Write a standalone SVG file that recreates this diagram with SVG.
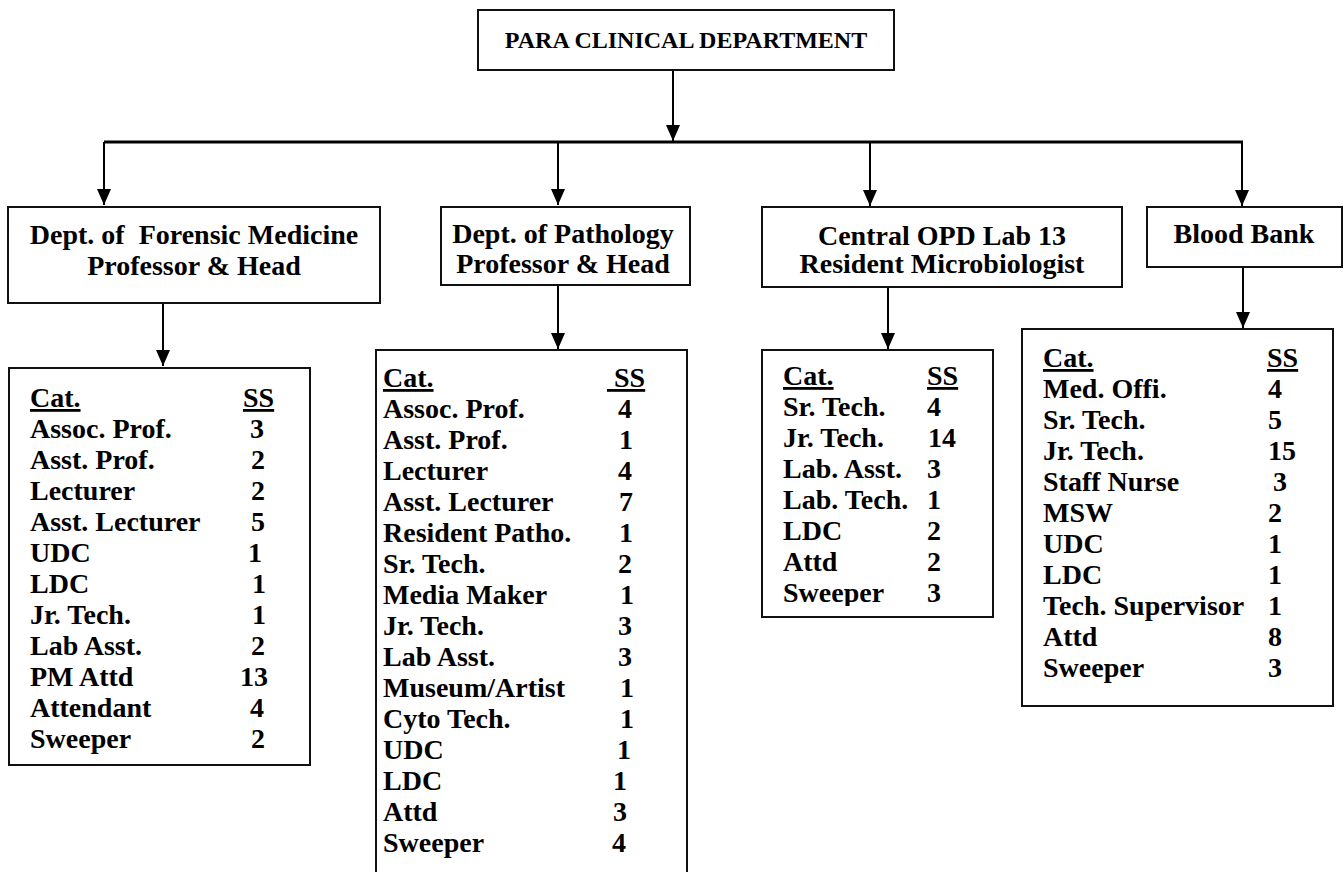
<svg xmlns="http://www.w3.org/2000/svg" width="1344" height="872" viewBox="0 0 1344 872">
  <style>
    .box { fill: #ffffff; stroke: #111111; stroke-width: 2; }
    .t { font-family: "Liberation Serif", "Times New Roman", serif; font-weight: bold; font-size: 28px; fill: #000000; }
    .title { font-size: 24px; }
    .c { text-anchor: middle; }
    .u { text-decoration: underline; }
    .wire { fill: none; stroke: #000000; stroke-width: 2; }
    .bus { fill: none; stroke: #000000; stroke-width: 3; }
  </style>
  <defs>
    <marker id="arrow" viewBox="0 0 16 14" refX="16" refY="7" markerWidth="16" markerHeight="14" orient="auto" markerUnits="userSpaceOnUse">
      <path d="M0,0 L16,7 L0,14 z" fill="#000000"/>
    </marker>
    <clipPath id="clipOpd">
      <rect x="763" y="351" width="229" height="255"/>
    </clipPath>
  </defs>
  <rect width="1344" height="872" fill="#ffffff"/>

  <!-- connectors -->
  <g id="connectors">
    <line class="wire" x1="673" y1="70" x2="673" y2="141" marker-end="url(#arrow)"/>
    <line class="bus" x1="104" y1="142" x2="1243" y2="142"/>
    <line class="wire" x1="104" y1="142" x2="104" y2="205" marker-end="url(#arrow)"/>
    <line class="wire" x1="558" y1="142" x2="558" y2="205" marker-end="url(#arrow)"/>
    <line class="wire" x1="870" y1="142" x2="870" y2="206" marker-end="url(#arrow)"/>
    <line class="wire" x1="1242" y1="142" x2="1242" y2="206" marker-end="url(#arrow)"/>
    <line class="wire" x1="163" y1="303" x2="163" y2="366" marker-end="url(#arrow)"/>
    <line class="wire" x1="558" y1="285" x2="558" y2="349" marker-end="url(#arrow)"/>
    <line class="wire" x1="888" y1="287" x2="888" y2="349" marker-end="url(#arrow)"/>
    <line class="wire" x1="1243" y1="267" x2="1243" y2="328" marker-end="url(#arrow)"/>
  </g>

  <!-- top node -->
  <g id="para-clinical">
    <rect class="box" x="478" y="10" width="416" height="60"/>
    <text class="t title c" x="686" y="48">PARA CLINICAL DEPARTMENT</text>
  </g>

  <!-- department heads -->
  <g id="forensic-head">
    <rect class="box" x="8" y="207" width="372" height="96"/>
    <text class="t c" x="194" y="244" xml:space="preserve">Dept. of  Forensic Medicine</text>
    <text class="t c" x="194" y="275">Professor &amp; Head</text>
  </g>
  <g id="pathology-head">
    <rect class="box" x="441" y="207" width="249" height="78"/>
    <text class="t c" x="563" y="243">Dept. of Pathology</text>
    <text class="t c" x="563" y="273">Professor &amp; Head</text>
  </g>
  <g id="opd-head">
    <rect class="box" x="762" y="207" width="360" height="80"/>
    <text class="t c" x="942" y="245">Central OPD Lab 13</text>
    <text class="t c" x="942" y="273">Resident Microbiologist</text>
  </g>
  <g id="bloodbank-head">
    <rect class="box" x="1147" y="207" width="195" height="60"/>
    <text class="t c" x="1244" y="243">Blood Bank</text>
  </g>

  <!-- staff strength tables -->
  <g id="forensic-staff">
    <rect class="box" x="9" y="368" width="301" height="397"/>
    <text class="t u" x="30" y="407">Cat.</text><text class="t u" x="243" y="407">SS</text>
    <text class="t" x="30" y="438">Assoc. Prof.</text><text class="t" x="250" y="438">3</text>
    <text class="t" x="30" y="469">Asst. Prof.</text><text class="t" x="251" y="469">2</text>
    <text class="t" x="30" y="500">Lecturer</text><text class="t" x="251" y="500">2</text>
    <text class="t" x="30" y="531">Asst. Lecturer</text><text class="t" x="251" y="531">5</text>
    <text class="t" x="30" y="562">UDC</text><text class="t" x="248" y="562">1</text>
    <text class="t" x="30" y="593">LDC</text><text class="t" x="252" y="593">1</text>
    <text class="t" x="30" y="624">Jr. Tech.</text><text class="t" x="252" y="624">1</text>
    <text class="t" x="30" y="655">Lab Asst.</text><text class="t" x="251" y="655">2</text>
    <text class="t" x="30" y="686">PM Attd</text><text class="t" x="240" y="686">13</text>
    <text class="t" x="30" y="717">Attendant</text><text class="t" x="250" y="717">4</text>
    <text class="t" x="30" y="748">Sweeper</text><text class="t" x="251" y="748">2</text>
  </g>

  <g id="pathology-staff">
    <rect class="box" x="376" y="350" width="311" height="540"/>
    <text class="t u" x="383" y="387">Cat.</text><text class="t u" x="607" y="387" xml:space="preserve"> SS</text>
    <text class="t" x="383" y="418">Assoc. Prof.</text><text class="t" x="618" y="418">4</text>
    <text class="t" x="383" y="449">Asst. Prof.</text><text class="t" x="619" y="449">1</text>
    <text class="t" x="383" y="480">Lecturer</text><text class="t" x="618" y="480">4</text>
    <text class="t" x="383" y="511">Asst. Lecturer</text><text class="t" x="619" y="511">7</text>
    <text class="t" x="383" y="542">Resident Patho.</text><text class="t" x="619" y="542">1</text>
    <text class="t" x="383" y="573">Sr. Tech.</text><text class="t" x="618" y="573">2</text>
    <text class="t" x="383" y="604">Media Maker</text><text class="t" x="620" y="604">1</text>
    <text class="t" x="383" y="635">Jr. Tech.</text><text class="t" x="618" y="635">3</text>
    <text class="t" x="383" y="666">Lab Asst.</text><text class="t" x="618" y="666">3</text>
    <text class="t" x="383" y="697">Museum/Artist</text><text class="t" x="620" y="697">1</text>
    <text class="t" x="383" y="728">Cyto Tech.</text><text class="t" x="620" y="728">1</text>
    <text class="t" x="383" y="759">UDC</text><text class="t" x="617" y="759">1</text>
    <text class="t" x="383" y="790">LDC</text><text class="t" x="613" y="790">1</text>
    <text class="t" x="383" y="821">Attd</text><text class="t" x="613" y="821">3</text>
    <text class="t" x="383" y="852">Sweeper</text><text class="t" x="612" y="852">4</text>
  </g>

  <g id="opd-staff">
    <rect class="box" x="762" y="350" width="231" height="267"/>
    <g clip-path="url(#clipOpd)">
      <text class="t u" x="783" y="385">Cat.</text><text class="t u" x="927" y="385">SS</text>
      <text class="t" x="783" y="416">Sr. Tech.</text><text class="t" x="927" y="416">4</text>
      <text class="t" x="783" y="447">Jr. Tech.</text><text class="t" x="928" y="447">14</text>
      <text class="t" x="783" y="478">Lab. Asst.</text><text class="t" x="927" y="478">3</text>
      <text class="t" x="783" y="509">Lab. Tech.</text><text class="t" x="927" y="509">1</text>
      <text class="t" x="783" y="540">LDC</text><text class="t" x="927" y="540">2</text>
      <text class="t" x="783" y="571">Attd</text><text class="t" x="927" y="571">2</text>
      <text class="t" x="783" y="602">Sweeper</text><text class="t" x="927" y="602">3</text>
    </g>
  </g>

  <g id="bloodbank-staff">
    <rect class="box" x="1022" y="329" width="311" height="377"/>
    <text class="t u" x="1043" y="367">Cat.</text><text class="t u" x="1267" y="367">SS</text>
    <text class="t" x="1043" y="398">Med. Offi.</text><text class="t" x="1268" y="398">4</text>
    <text class="t" x="1043" y="429">Sr. Tech.</text><text class="t" x="1268" y="429">5</text>
    <text class="t" x="1043" y="460">Jr. Tech.</text><text class="t" x="1268" y="460">15</text>
    <text class="t" x="1043" y="491">Staff Nurse</text><text class="t" x="1273" y="491">3</text>
    <text class="t" x="1043" y="522">MSW</text><text class="t" x="1268" y="522">2</text>
    <text class="t" x="1043" y="553">UDC</text><text class="t" x="1268" y="553">1</text>
    <text class="t" x="1043" y="584">LDC</text><text class="t" x="1268" y="584">1</text>
    <text class="t" x="1043" y="615">Tech. Supervisor</text><text class="t" x="1268" y="615">1</text>
    <text class="t" x="1043" y="646">Attd</text><text class="t" x="1268" y="646">8</text>
    <text class="t" x="1043" y="677">Sweeper</text><text class="t" x="1268" y="677">3</text>
  </g>
</svg>
